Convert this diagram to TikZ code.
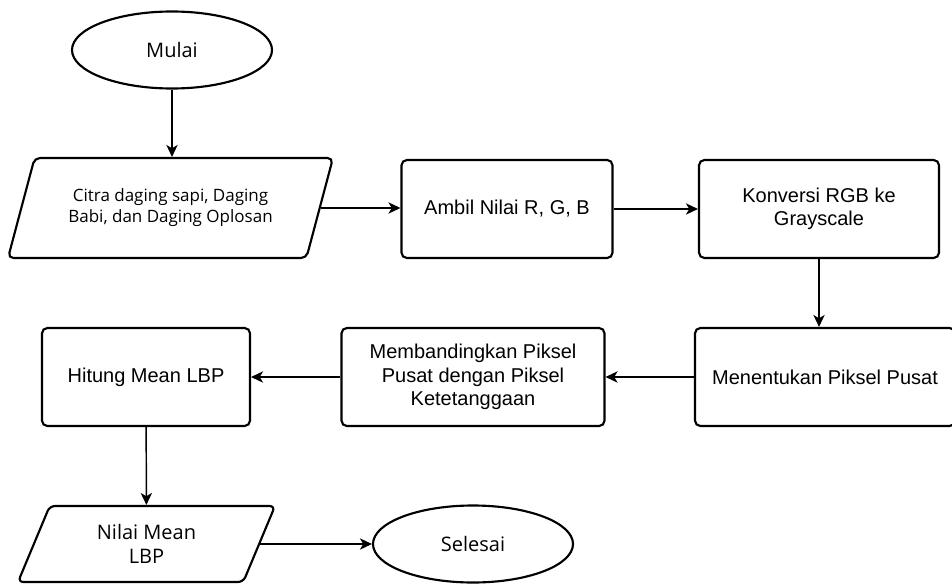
\documentclass[tikz,border=0pt]{standalone}
\usepackage{fontspec}
\usepackage{tikz}
\usetikzlibrary{shapes.geometric, arrows.meta}
\newfontfamily\termfont{Open Sans}
\newfontfamily\boxfont{Liberation Sans}

\begin{document}
\begin{tikzpicture}[x=0.75pt, y=-0.75pt,
      % Define compact styles
      terminal/.style={ellipse, draw, line width=1.6pt, inner sep=0pt, minimum width=150pt, minimum height=57.75pt, align=center, font=\termfont\fontsize{15}{18}\selectfont},
      process/.style={rectangle, draw, line width=1.6pt, rounded corners=4pt, minimum height=73.5pt, align=center, font=\boxfont\fontsize{15}{17.5}\selectfont},
      io/.style={trapezium, trapezium stretches body, draw, line width=1.6pt, rounded corners=4pt, inner sep=0pt, align=center, font=\termfont\fontsize{15}{18}\selectfont},
      arrow/.style={-{Stealth[length=9pt, width=8.5pt, inset=2.5pt]}, line width=1.1pt}
    ]
    \useasboundingbox (0,0) rectangle (952,585);

    % Top row - input and first steps
    \node[terminal] (mulai) at (172,50) {Mulai};
    \node[io, trapezium left angle=55, trapezium right angle=125, minimum width=243.75pt, minimum height=75pt,
          font=\termfont\fontsize{12.75}{15.75}\selectfont] (citra) at (170.5,208) {Citra daging sapi, Daging\\Babi, dan Daging Oplosan};
    \node[process, minimum width=158.25pt] (ambil) at (507,209) {Ambil Nilai R, G, B};
    \node[process, minimum width=180pt] (konversi) at (819,209) {Konversi RGB ke\\Grayscale};

    % Middle row - LBP steps
    \node[process, minimum width=195pt] (menentukan) at (825,377) {Menentukan Piksel Pusat};
    \node[process, minimum width=197.25pt] (banding) at (473,377) {Membandingkan Piksel\\Pusat dengan Piksel\\Ketetanggaan};
    \node[process, minimum width=156pt] (hitung) at (146,377) {Hitung Mean LBP};

    % Bottom row - output
    \node[io, trapezium left angle=51, trapezium right angle=129, minimum width=192.75pt, minimum height=57pt] (nilai) at (146.5,544) {Nilai Mean\\LBP};
    \node[terminal] (selesai) at (473,544) {Selesai};

    % Arrows
    \draw[arrow] (mulai.south) -- (mulai.south |- citra.north);
    \draw[arrow] (citra.right side) -- (citra.right side -| ambil.west);
    \draw[arrow] (ambil) -- (konversi);
    \draw[arrow] (konversi.south) -- (konversi.south |- menentukan.north);
    \draw[arrow] (menentukan) -- (banding);
    \draw[arrow] (banding) -- (hitung);
    \draw[arrow] (hitung) -- (nilai);
    \draw[arrow] (nilai.right side) -- (nilai.right side -| selesai.west);

  \end{tikzpicture}
\end{document}
